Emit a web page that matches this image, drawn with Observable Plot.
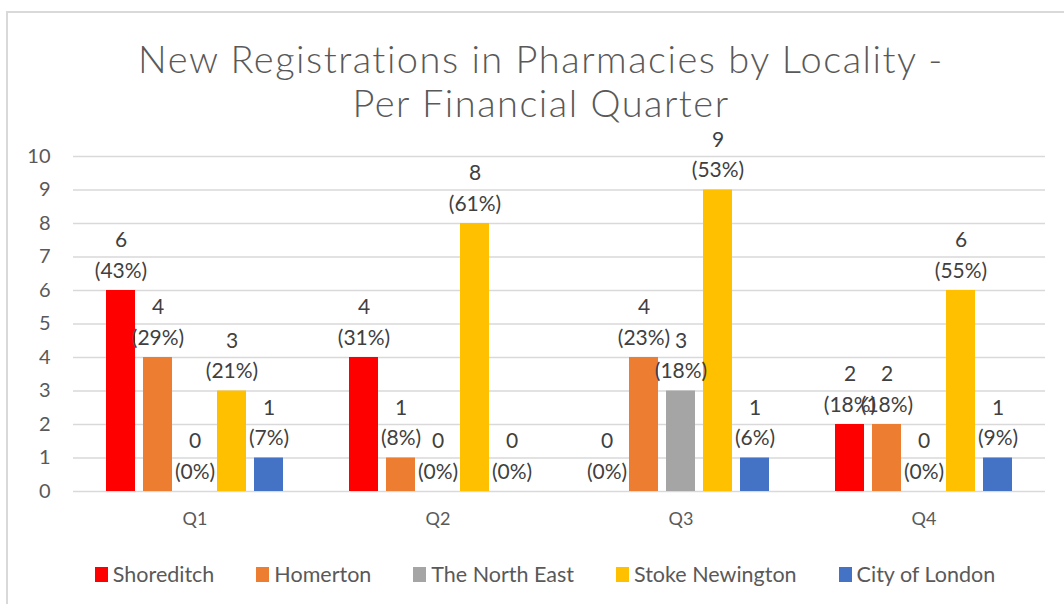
<!DOCTYPE html>
<html>
<head>
<meta charset="utf-8">
<script src="https://cdn.jsdelivr.net/npm/d3@7"></script>
<script src="https://cdn.jsdelivr.net/npm/@observablehq/plot@0.6"></script>
<style>
  body { margin: 0; background: #fff; width: 1064px; height: 604px; overflow: hidden; position: relative; font-family: Lato, "Open Sans", sans-serif; }
  #frame { position: absolute; left: 6px; top: 11px; width: 1100px; height: 700px; border-left: 2px solid #d9d9d9; border-top: 2px solid #d9d9d9; box-sizing: border-box; }
  #title { position: absolute; left: 0; top: 36px; width: 1082px; text-align: center; font-family: Lato, sans-serif; font-weight: 300; font-size: 38px; letter-spacing: 1.5px; line-height: 44px; color: #595959; }
  #chart { position: absolute; left: 0; top: 110px; }
  #legend { position: absolute; left: 0; top: 561px; width: 1090px; display: flex; justify-content: center; gap: 42px; font-family: Lato, sans-serif; font-size: 21.5px; color: #595959; line-height: 26px; }
  #legend .item { display: flex; align-items: center; gap: 5px; }
  #legend .sw { width: 13px; height: 15px; display: inline-block; }
</style>
</head>
<body>
<div id="frame"></div>
<div id="title">New Registrations in Pharmacies by Locality -<br>Per Financial Quarter</div>
<div id="chart"></div>
<div id="legend"></div>
<script>
const quarters = ["Q1", "Q2", "Q3", "Q4"];
const localities = ["Shoreditch", "Homerton", "The North East", "Stoke Newington", "City of London"];
const colors = ["#FF0000", "#ED7D31", "#A5A5A5", "#FFC000", "#4472C4"];
const shoreditch = [6, 4, 0, 2];
const homerton = [4, 1, 4, 2];
const northEast = [0, 0, 3, 0];
const stokeNewington = [3, 8, 9, 6];
const cityOfLondon = [1, 0, 1, 1];
const shoreditchPct = [43, 31, 0, 18];
const homertonPct = [29, 8, 23, 18];
const northEastPct = [0, 0, 18, 0];
const stokeNewingtonPct = [21, 61, 53, 55];
const cityOfLondonPct = [7, 0, 6, 9];
const yTicks = [0, 1, 2, 3, 4, 5, 6, 7, 8, 9, 10];

const series = [
  [shoreditch, shoreditchPct],
  [homerton, homertonPct],
  [northEast, northEastPct],
  [stokeNewington, stokeNewingtonPct],
  [cityOfLondon, cityOfLondonPct]
];
const data = [];
quarters.forEach((q, qi) => {
  localities.forEach((loc, li) => {
    data.push({quarter: q, locality: loc, value: series[li][0][qi], pct: series[li][1][qi]});
  });
});

const chart = Plot.plot({
  width: 1064,
  height: 440,
  marginTop: 46,
  marginBottom: 59,
  marginLeft: 71,
  marginRight: 18,
  style: {fontFamily: "Lato, sans-serif", color: "#595959", background: "transparent"},
  fx: {domain: quarters, padding: 0, label: null},
  x: {domain: localities, paddingInner: 0.213, paddingOuter: 0.86, axis: null},
  y: {domain: [0, 10], label: null},
  color: {domain: localities, range: colors},
  marks: [
    Plot.gridY(yTicks, {stroke: "#d9d9d9", strokeOpacity: 1, strokeWidth: 1.5}),
    Plot.axisY(yTicks, {tickSize: 0, tickPadding: 23, fontSize: 20, fill: "#595959", label: null}),
    Plot.axisFx({anchor: "bottom", tickSize: 0, tickPadding: 21, fontSize: 18, fill: "#595959", label: null}),
    Plot.barY(data, {fx: "quarter", x: "locality", y: "value", fill: "locality"}),
    Plot.text(data, {
      fx: "quarter", x: "locality", y: "value",
      text: d => `${d.value}\n(${d.pct}%)`,
      lineAnchor: "bottom", lineHeight: 1.45, dy: -13,
      fontSize: 21, fill: "#404040"
    })
  ]
});
document.getElementById("chart").appendChild(chart);

const legend = document.getElementById("legend");
localities.forEach((loc, i) => {
  const item = document.createElement("div");
  item.className = "item";
  const sw = document.createElement("span");
  sw.className = "sw";
  sw.style.background = colors[i];
  const label = document.createElement("span");
  label.textContent = loc;
  item.appendChild(sw);
  item.appendChild(label);
  legend.appendChild(item);
});
</script>
</body>
</html>
